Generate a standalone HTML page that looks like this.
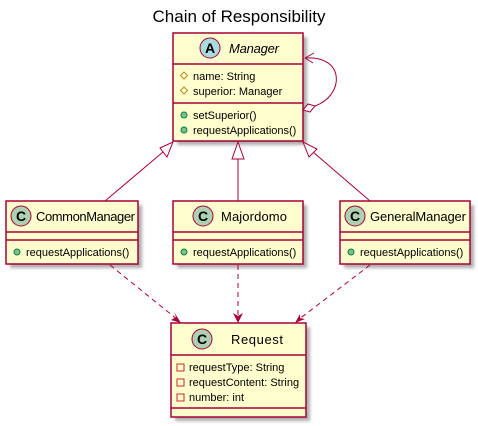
<!DOCTYPE html>
<html><head><style>body{margin:0;background:#fff}svg{display:block}text{font-family:"Liberation Sans",sans-serif}</style></head><body>
<svg width="478" height="426" viewBox="0 0 478 426" xmlns="http://www.w3.org/2000/svg">
<defs><filter id="sh" x="-10%" y="-10%" width="130%" height="130%"><feGaussianBlur stdDeviation="1.5"/></filter></defs>
<text x="239" y="22" font-size="17" text-anchor="middle">Chain of Responsibility</text>
<g fill="#999" filter="url(#sh)" opacity="0.8">
<rect x="177" y="37" width="130" height="108"/>
<rect x="10" y="205" width="132" height="63"/>
<rect x="177" y="205" width="130" height="63"/>
<rect x="344" y="205" width="130" height="63"/>
<rect x="175" y="327" width="135" height="94"/>
</g>
<g fill="#FEFECE" stroke="#A80036" stroke-width="1.5">
<rect x="173" y="33" width="130" height="108"/>
<rect x="6" y="201" width="132" height="63"/>
<rect x="173" y="201" width="130" height="63"/>
<rect x="340" y="201" width="130" height="63"/>
<rect x="171" y="323" width="135" height="94"/>
</g>
<g stroke="#A80036" stroke-width="1.5">
<line x1="173" y1="64" x2="303" y2="64"/><line x1="173" y1="103" x2="303" y2="103"/>
<line x1="6" y1="232" x2="138" y2="232"/><line x1="6" y1="240" x2="138" y2="240"/>
<line x1="173" y1="232" x2="303" y2="232"/><line x1="173" y1="240" x2="303" y2="240"/>
<line x1="340" y1="232" x2="470" y2="232"/><line x1="340" y1="240" x2="470" y2="240"/>
<line x1="171" y1="355" x2="306" y2="355"/><line x1="171" y1="408" x2="306" y2="408"/>
</g>
<g stroke="#A80036" stroke-width="1">
<circle cx="210" cy="48" r="10" fill="#A9DCDF"/>
<circle cx="21" cy="216" r="10" fill="#ADD1B2"/>
<circle cx="203" cy="216" r="10" fill="#ADD1B2"/>
<circle cx="355" cy="216" r="10" fill="#ADD1B2"/>
<circle cx="202" cy="339" r="10" fill="#ADD1B2"/>
</g>
<g font-size="14" font-weight="bold" text-anchor="middle">
<text x="210" y="53">A</text><text x="21" y="221">C</text><text x="203" y="221">C</text><text x="355" y="221">C</text><text x="202" y="344">C</text>
</g>
<text x="229" y="53" font-size="13" font-style="italic" textLength="50">Manager</text>
<text x="36" y="221" font-size="13" textLength="99">CommonManager</text>
<text x="221" y="221" font-size="13" textLength="66">Majordomo</text>
<text x="370" y="221" font-size="13" textLength="96">GeneralManager</text>
<text x="231" y="344" font-size="13" textLength="52">Request</text>
<g font-size="11">
<text x="193" y="80">name: String</text><text x="193" y="95">superior: Manager</text>
<text x="193" y="119">setSuperior()</text><text x="193" y="134">requestApplications()</text>
<text x="26" y="256">requestApplications()</text>
<text x="193" y="256">requestApplications()</text>
<text x="360" y="256">requestApplications()</text>
<text x="189" y="371">requestType: String</text><text x="189" y="386">requestContent: String</text><text x="189" y="401">number: int</text>
</g>
<g fill="none" stroke="#B38D22" stroke-width="1"><path d="M184 72 l3.5 3.5 -3.5 3.5 -3.5 -3.5z"/><path d="M184 87 l3.5 3.5 -3.5 3.5 -3.5 -3.5z"/></g>
<g fill="#84BE84" stroke="#038048" stroke-width="1"><circle cx="184" cy="115" r="3"/><circle cx="184" cy="130" r="3"/><circle cx="17" cy="252" r="3"/><circle cx="184" cy="252" r="3"/><circle cx="351" cy="252" r="3"/></g>
<g fill="none" stroke="#C82930" stroke-width="1"><rect x="177" y="364" width="7" height="7"/><rect x="177" y="379" width="7" height="7"/><rect x="177" y="394" width="7" height="7"/></g>
<g stroke="#A80036" stroke-width="1" fill="none">
<line x1="105" y1="201" x2="163" y2="152"/>
<polygon points="173,142 160,148 167,157" fill="#fff"/>
<line x1="238" y1="201" x2="238" y2="159"/>
<polygon points="238,142 232,159 244,159" fill="#fff"/>
<line x1="370" y1="201" x2="313" y2="152"/>
<polygon points="303,142 309,157 317,149" fill="#fff"/>
<path d="M315 106 C345 95 345 55 305 58"/>
<polygon points="303,110 308,104 315,106 310,112" fill="#fff"/>
<path d="M305 58 l9 -5 M305 58 l8 5"/>
<g stroke-dasharray="5,4">
<line x1="110" y1="265" x2="178" y2="320"/>
<line x1="238" y1="265" x2="238" y2="320"/>
<line x1="370" y1="265" x2="298" y2="320"/>
</g>
</g>
<g fill="#A80036">
<polygon points="181,323 171,320 176,317 174,312"/>
<polygon points="238,323 233,313 238,316 243,313"/>
<polygon points="295,323 300,314 300,318 305,319"/>
</g>
</svg>
</body></html>
